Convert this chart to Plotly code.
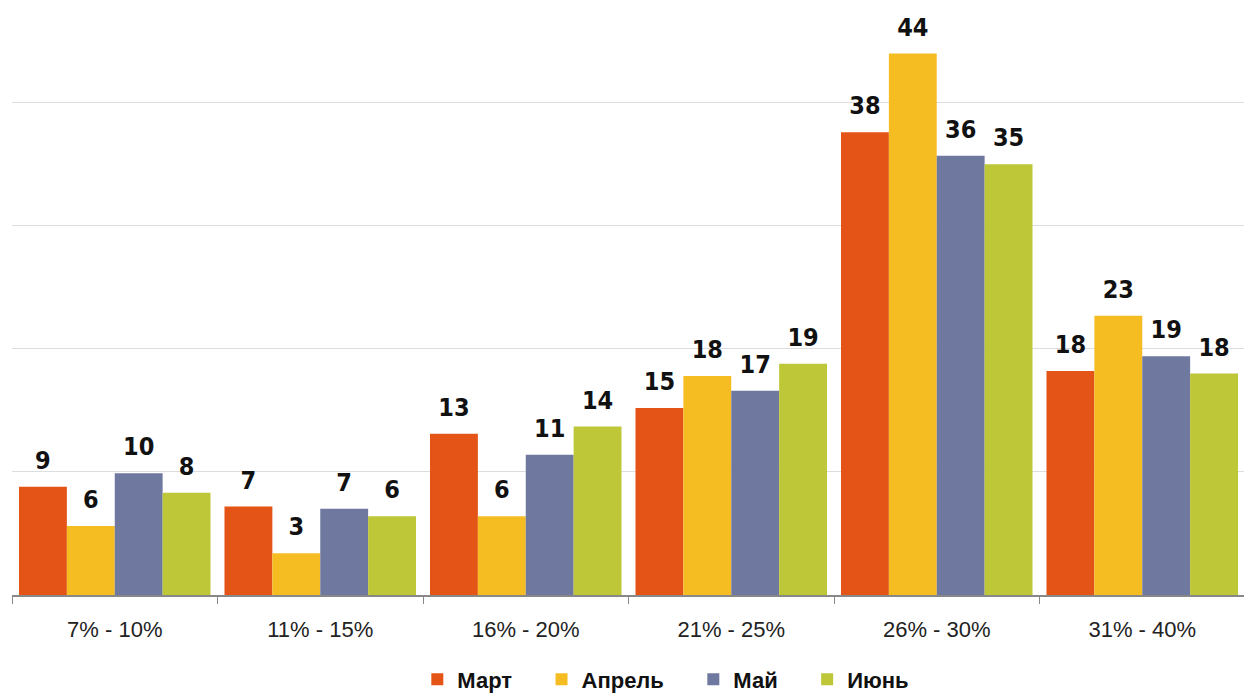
import plotly.graph_objects as go

categories = ["7% - 10%", "11% - 15%", "16% - 20%", "21% - 25%", "26% - 30%", "31% - 40%"]
series_names = ["Март", "Апрель", "Май", "Июнь"]
mart = [8.8, 7.2, 13.1, 15.2, 37.6, 18.2]
aprel = [5.6, 3.4, 6.4, 17.8, 44.0, 22.7]
mai = [9.9, 7.0, 11.4, 16.6, 35.7, 19.4]
iyun = [8.3, 6.4, 13.7, 18.8, 35.0, 18.0]
colors = ["#E35416", "#F6BD22", "#6F79A0", "#BDC738"]

pad = "\u00a0" * 4
fig = go.Figure()
for i, (name, vals, c) in enumerate(zip(series_names, [mart, aprel, mai, iyun], colors)):
    fig.add_trace(go.Bar(
        x=categories, y=vals, name=name + pad, marker=dict(color=c, line=dict(width=0)),
        offsetgroup=str(i), alignmentgroup="a", textposition="none",
    ))
for i, vals in enumerate([mart, aprel, mai, iyun]):
    fig.add_trace(go.Scatter(
        x=categories, y=vals, mode="markers+text", offsetgroup=str(i), alignmentgroup="a",
        marker=dict(size=17, opacity=0), texttemplate="%{y:.0f}", textposition="top center",
        cliponaxis=False, showlegend=False, hoverinfo="skip",
        textfont=dict(family="DejaVu Sans Condensed", size=25, color="#111111", weight="bold"),
    ))

fig.update_layout(
    width=1252, height=693,
    margin=dict(l=4, r=15, t=0, b=106, autoexpand=False),
    paper_bgcolor="white", plot_bgcolor="white",
    barmode="group", bargap=0.068, bargroupgap=0,
    scattermode="group", scattergap=0.068,
    showlegend=True,
    legend=dict(orientation="h", x=0.54, xanchor="center", y=-0.108, yanchor="top",
                font=dict(family="Liberation Sans", size=22, color="#111111", weight="bold"),
                itemwidth=30, traceorder="normal", itemclick=False),
    xaxis=dict(showline=True, linecolor="#888888", linewidth=1.5, ticks="outside",
               ticklen=7, tickcolor="#888888", tickson="boundaries", automargin=False,
               ticklabelstandoff=14,
               tickfont=dict(family="Liberation Sans", size=22, color="#222222")),
    yaxis=dict(range=[0, 47.7], dtick=10, showgrid=True, gridcolor="#DDDDDD", automargin=False,
               showticklabels=False, zeroline=False, showline=False),
)
fig.write_html("out.html")
